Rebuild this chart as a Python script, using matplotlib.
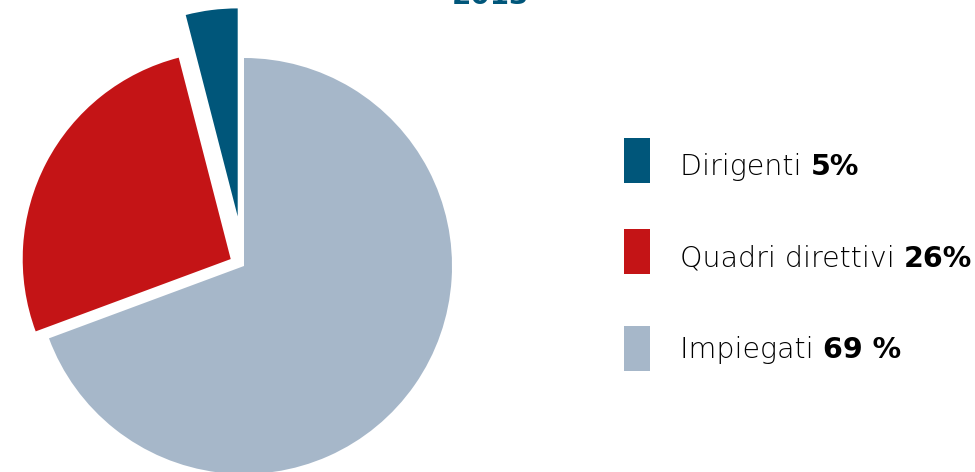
import matplotlib
matplotlib.use("Agg")
import matplotlib.pyplot as plt
from matplotlib.patches import Rectangle

# data
categories = ["Impiegati", "Quadri direttivi", "Dirigenti"]
shares = [69, 26.5, 4]
legend_order = ["Dirigenti", "Quadri direttivi", "Impiegati"]
legend_values = ["5%", "26%", "69 %"]
colors = {"Impiegati": "#A6B7C9", "Quadri direttivi": "#C41416", "Dirigenti": "#00567A"}
year = "2013"

W, H = 975, 472
fig = plt.figure(figsize=(W / 100, H / 100), dpi=100)
ax = fig.add_axes([0, 0, 1, 1])

# pie, in pixel coordinates (y up)
ax.pie(shares,
       colors=[colors[c] for c in categories],
       explode=[0, 15, 50],
       startangle=90,
       counterclock=False,
       radius=208,
       center=(244, H - 266),
       wedgeprops=dict(linewidth=0))

ax.set_xlim(0, W)
ax.set_ylim(0, H)
ax.axis("off")

# title, mostly cut off by the top edge
ax.text(490, H - 4, year, ha="center", va="baseline", fontsize=20,
        fontweight="bold", color="#00567A")

# legend
box_top = [138, 229, 326]
text_base = [175, 267, 358]
for name, val, bt, tb in zip(legend_order, legend_values, box_top, text_base):
    ax.add_patch(Rectangle((624, H - bt - 45), 26, 45, color=colors[name], lw=0))
    t = ax.text(680, H - tb, name + " ", ha="left", va="baseline",
                fontsize=20.5, fontweight="light", color="black")
    ax.annotate(val, xy=(1, 0), xycoords=t, ha="left", va="bottom",
                fontsize=20.5, fontweight="bold", color="black")

fig.savefig("out.png", dpi=100)
